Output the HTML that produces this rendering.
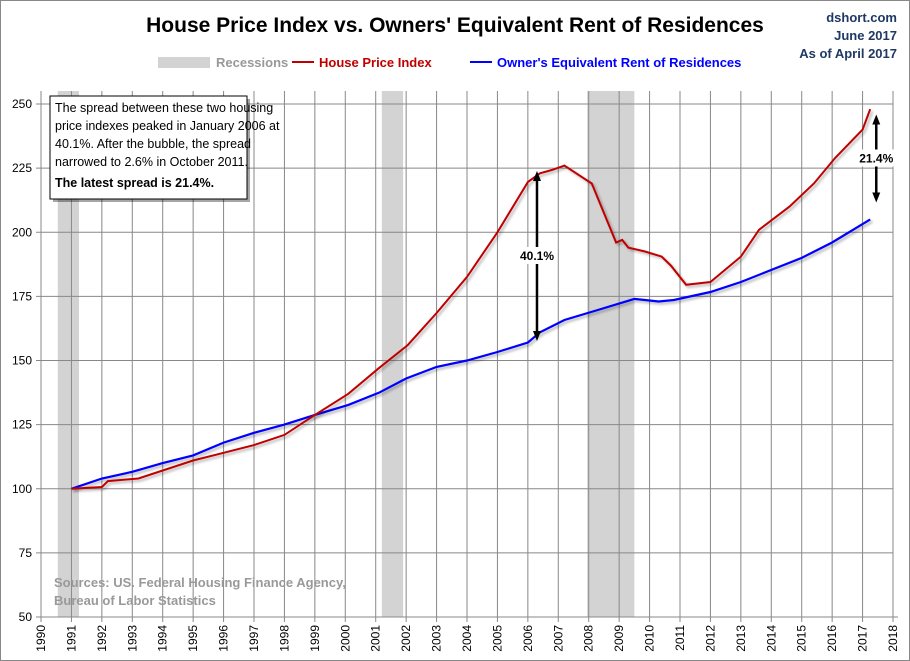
<!DOCTYPE html>
<html><head><meta charset="utf-8"><style>
body{margin:0;background:#fff;}
svg{display:block;font-family:"Liberation Sans",sans-serif;}
</style></head><body>
<svg id="chart" width="910" height="661" viewBox="0 0 910 661">
<defs>
<filter id="sh" x="-5%" y="-5%" width="110%" height="110%"><feDropShadow dx="2" dy="2" stdDeviation="1.2" flood-color="#000" flood-opacity="0.3"/></filter>
<marker id="ah" markerUnits="userSpaceOnUse" markerWidth="10" markerHeight="10" refX="5" refY="5" orient="auto-start-reverse"><path d="M0,1L10,5L0,9z" fill="#000"/></marker>
</defs>
<rect x="0.5" y="0.5" width="909" height="660" fill="#fff" stroke="#888"/>
<text x="455" y="32" text-anchor="middle" font-size="21" font-weight="bold" fill="#000">House Price Index vs. Owners' Equivalent Rent of Residences</text>
<g font-size="13" font-weight="bold" fill="#1f3864" text-anchor="end">
<text x="897" y="22">dshort.com</text><text x="897" y="40">June 2017</text><text x="897" y="58">As of April 2017</text></g>
<g font-size="13" font-weight="bold">
<rect x="158" y="57" width="52" height="11" fill="#d3d3d3"/>
<text x="216" y="67" fill="#999">Recessions</text>
<line x1="292" y1="62" x2="314" y2="62" stroke="#c00000" stroke-width="2"/>
<text x="319" y="67" fill="#c00000">House Price Index</text>
<line x1="470" y1="62" x2="492" y2="62" stroke="#0000ff" stroke-width="2"/>
<text x="497" y="67" fill="#0000ff">Owner's Equivalent Rent of Residences</text>
</g>
<g id="rec"></g><g id="grid"></g><g id="axes"></g><g id="series"></g>
<g>
<rect x="53" y="99" width="197" height="103" fill="#000" opacity="0.35"/>
<rect x="50" y="96" width="197" height="103" fill="#fff" stroke="#000"/>
<g font-size="12.5" fill="#000">
<text x="55" y="112">The spread between these two housing</text>
<text x="55" y="130">price indexes peaked in January 2006 at</text>
<text x="55" y="148">40.1%.  After the bubble, the spread</text>
<text x="55" y="166">narrowed to 2.6%  in October 2011.</text>
<text x="55" y="187" font-weight="bold">The latest spread is 21.4%.</text></g></g>
<g font-size="13" font-weight="bold" fill="#999">
<text x="54" y="587">Sources: US. Federal Housing Finance Agency,</text>
<text x="54" y="605">Bureau of Labor Statistics</text></g>
</svg>
<script>
const hpiYears=[1991,1992,1992.2,1993.2,1995,1996,1997,1998,1999,2000.1,2001.1,2002.05,2003,2004,2005,2006,2006.4,2006.8,2007.2,2008.1,2008.9,2009.1,2009.3,2009.85,2010.4,2010.7,2011.2,2012,2013,2013.6,2014.6,2015.4,2016.1,2017,2017.25];
const hpiValues=[100,100.7,103,104,111,114,117,121,128.8,137,147,156,168.5,182.6,200,219.6,223,224.3,226,219,196,197,194,192.5,190.5,187,179.5,180.6,190.5,201,210,219,229,240,248];
const oerYears=[1991,1992,1993,1994,1995,1996,1997,1998,1999,2000.1,2001.1,2002,2003,2004,2005,2006,2006.4,2007.2,2008.3,2009.5,2010.3,2010.8,2012,2013,2015,2016,2017.25];
const oerValues=[100,104,106.6,110,113,118,121.8,125,128.8,132.7,137.4,143,147.5,150,153.3,157,161,165.8,169.7,174,173,173.6,176.7,180.6,190,196,205];
const recessions=[[1990.55,1991.25],[2001.2,2001.9],[2007.95,2009.5]];
const yTicks=[50,75,100,125,150,175,200,225,250];
const xTicks=[1990,1991,1992,1993,1994,1995,1996,1997,1998,1999,2000,2001,2002,2003,2004,2005,2006,2007,2008,2009,2010,2011,2012,2013,2014,2015,2016,2017,2018];
const NS='http://www.w3.org/2000/svg';
const X0=41,X1=893,Y0=617,Y1=104,TOP=91;
function xs(t){return X0+(t-1990)*(X1-X0)/28;}
function ys(v){return Y0-(v-50)*(Y0-Y1)/200;}
function mk(tag,attrs,parent){const e=document.createElementNS(NS,tag);for(const k in attrs)e.setAttribute(k,attrs[k]);document.getElementById(parent).appendChild(e);return e;}
recessions.forEach(r=>{
 const e=mk('rect',{x:xs(r[0]),y:TOP,width:xs(r[1])-xs(r[0]),height:Y0-TOP,fill:'#d3d3d3'},'rec');
 
 
});
xTicks.forEach(t=>{
 const g=mk('line',{x1:xs(t),x2:xs(t),y1:TOP,y2:Y0+5,stroke:'#888','stroke-width':1},'grid');
 
 
 const tx=mk('text',{x:0,y:0,'font-size':12,fill:'#000','text-anchor':'end',transform:`translate(${xs(t)+4},${Y0+8}) rotate(-90)`},'axes');
 tx.textContent=t;
 
 
});
mk('line',{x1:X0,x2:X0,y1:TOP,y2:Y0,stroke:'#888'},'axes');
mk('line',{x1:X0,x2:X1+5,y1:Y0,y2:Y0,stroke:'#888'},'axes');
yTicks.forEach(v=>{
 if(v>50){const g=mk('line',{x1:X0,x2:X1,y1:ys(v),y2:ys(v),stroke:'#888'},'grid');
 
 }
 mk('line',{x1:X0-5,x2:X0,y1:ys(v),y2:ys(v),stroke:'#888'},'axes');
 const tx=mk('text',{x:X0-9,y:ys(v)+4,'font-size':12,fill:'#000','text-anchor':'end'},'axes');
 tx.textContent=v;
 
 
});
function path(xa,va){return xa.map((t,i)=>(i?'L':'M')+xs(t).toFixed(1)+','+ys(va[i]).toFixed(1)).join('');}
const oer=mk('path',{d:path(oerYears,oerValues),fill:'none',stroke:'#0000ff','stroke-width':2.2,filter:'url(#sh)'},'series');


const hpi=mk('path',{d:path(hpiYears,hpiValues),fill:'none',stroke:'#c00000','stroke-width':2,filter:'url(#sh)'},'series');


function arrow(t,v1,v2,label,name){
 const a=mk('line',{x1:xs(t),x2:xs(t),y1:ys(v1)+4,y2:ys(v2)-4,stroke:'#000','stroke-width':2.5,'marker-start':'url(#ah)','marker-end':'url(#ah)'},'series');
 
 
 const my=(ys(v1)+ys(v2))/2;
 mk('rect',{x:xs(t)-19,y:my-9,width:38,height:17,fill:'#fff'},'series');
 const tx=mk('text',{x:xs(t),y:my+4,'font-size':12,'font-weight':'bold','text-anchor':'middle'},'series');
 tx.textContent=label;
 
 
}
arrow(2006.3,223.5,158,'40.1%','spread-2006-arrow');
arrow(2017.45,245.5,212,'21.4%','latest-spread-arrow');
</script>
</body></html>
